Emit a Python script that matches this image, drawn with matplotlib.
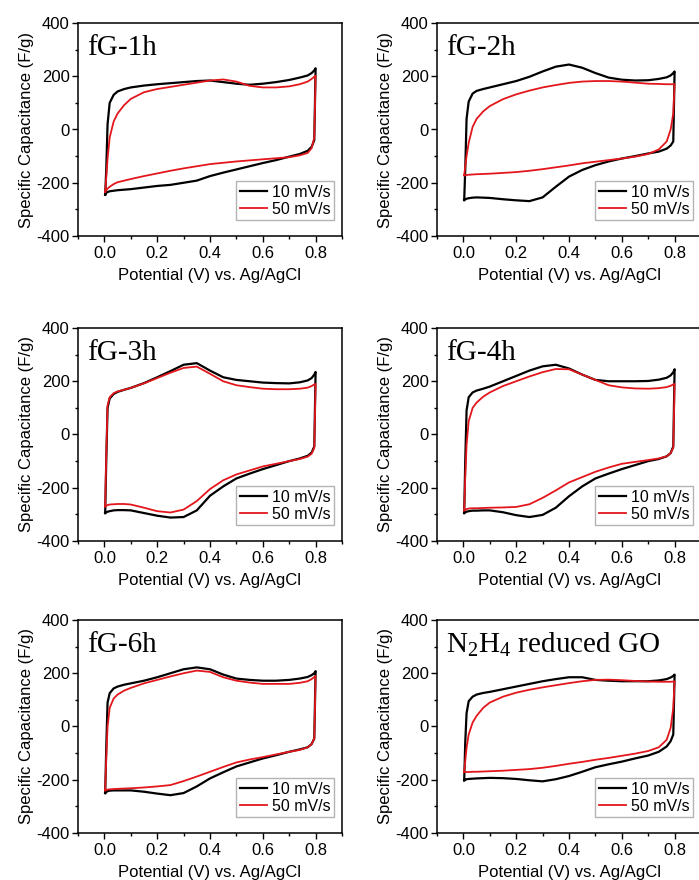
"""
cyclic voltammetry of functionalized graphene (fG) samples at two scan rates
"""

import numpy as np
import matplotlib
matplotlib.use("Agg")
import matplotlib.pyplot as plt
from matplotlib.ticker import MultipleLocator, FormatStrFormatter

# potential grid (V vs. Ag/AgCl) shared by all sweeps
E = [0.003, 0.007, 0.012, 0.02, 0.035, 0.05, 0.075, 0.1, 0.15, 0.2, 0.25,
     0.3, 0.35, 0.4, 0.45, 0.5, 0.55, 0.6, 0.65, 0.7, 0.74, 0.77, 0.785,
     0.795, 0.8]

# specific capacitance (F/g): anodic (forward) and cathodic (reverse) branches
fg1h_10_an = [-245, -150, 20, 100, 130, 143, 152, 158, 165, 170, 174, 178, 182,
              184, 178, 172, 168, 172, 178, 186, 195, 203, 212, 222, 230]
fg1h_10_ca = [-245, -238, -235, -232, -230, -228, -226, -224, -218, -212, -208,
              -200, -192, -175, -162, -150, -138, -126, -115, -102, -92, -80,
              -65, -40, 230]
fg1h_50_an = [-235, -180, -110, -30, 30, 60, 92, 115, 140, 152, 160, 168, 176,
              184, 188, 180, 164, 158, 158, 162, 170, 180, 190, 198, 202]
fg1h_50_ca = [-235, -228, -222, -215, -205, -198, -192, -186, -175, -165, -155,
              -146, -138, -130, -125, -120, -116, -112, -108, -104, -97, -88,
              -70, -30, 202]

fg2h_10_an = [-265, -150, 40, 105, 135, 145, 152, 158, 170, 182, 198, 218, 236,
              244, 232, 212, 195, 187, 184, 185, 190, 196, 203, 212, 218]
fg2h_10_ca = [-265, -262, -260, -258, -256, -255, -256, -257, -262, -266, -269,
              -255, -215, -177, -152, -134, -120, -109, -100, -90, -83, -72,
              -60, -45, 218]
fg2h_50_an = [-172, -140, -100, -50, 10, 40, 68, 88, 114, 132, 146, 158, 167,
              175, 180, 182, 182, 180, 176, 172, 171, 170, 170, 170, 170]
fg2h_50_ca = [-172, -172, -171, -170, -169, -168, -167, -166, -163, -160, -155,
              -149, -142, -135, -127, -121, -115, -109, -102, -92, -75, -45,
              0, 60, 170]

fg3h_10_an = [-295, -100, 100, 135, 152, 160, 168, 175, 193, 215, 238, 262, 268,
              240, 215, 205, 200, 195, 193, 192, 196, 203, 212, 225, 235]
fg3h_10_ca = [-295, -292, -290, -288, -285, -284, -284, -285, -295, -305, -312,
              -310, -285, -230, -195, -165, -147, -130, -115, -100, -90, -80,
              -68, -45, 235]
fg3h_50_an = [-270, -80, 110, 140, 155, 162, 168, 175, 192, 212, 232, 250, 255,
              228, 200, 185, 178, 172, 170, 170, 172, 176, 182, 188, 190]
fg3h_50_ca = [-270, -268, -265, -263, -262, -261, -261, -263, -275, -288, -293,
              -282, -250, -205, -172, -150, -135, -120, -110, -100, -92, -83,
              -72, -50, 190]

fg4h_10_an = [-295, -100, 90, 140, 158, 165, 172, 180, 200, 220, 240, 256, 262,
              248, 225, 205, 200, 200, 200, 201, 206, 213, 222, 234, 245]
fg4h_10_ca = [-295, -292, -290, -288, -286, -286, -285, -285, -292, -303, -310,
              -302, -275, -232, -195, -165, -147, -130, -115, -100, -92, -82,
              -70, -45, 245]
fg4h_50_an = [-285, -160, -40, 50, 100, 120, 142, 158, 182, 200, 218, 234, 246,
              245, 225, 205, 185, 177, 173, 172, 174, 178, 183, 188, 190]
fg4h_50_ca = [-285, -283, -280, -278, -277, -277, -276, -275, -274, -272, -262,
              -238, -210, -180, -160, -140, -124, -110, -103, -96, -90, -82,
              -70, -50, 190]

fg6h_10_an = [-250, -80, 90, 125, 143, 150, 157, 162, 172, 185, 200, 215, 222,
              215, 195, 180, 175, 172, 172, 175, 180, 186, 193, 200, 208]
fg6h_10_ca = [-250, -246, -243, -241, -240, -240, -240, -240, -245, -252, -258,
              -250, -225, -195, -172, -150, -135, -120, -108, -95, -86, -78,
              -66, -45, 208]
fg6h_50_an = [-240, -120, 0, 70, 105, 120, 135, 145, 162, 175, 188, 200, 210,
              205, 185, 172, 165, 160, 160, 160, 164, 170, 178, 186, 190]
fg6h_50_ca = [-240, -238, -237, -236, -235, -234, -233, -232, -229, -225, -220,
              -205, -188, -170, -152, -135, -124, -115, -105, -95, -88, -78,
              -66, -45, 190]

rgo_10_an = [-202, -60, 50, 95, 112, 120, 126, 130, 140, 150, 160, 170, 178,
             185, 185, 175, 172, 170, 170, 170, 173, 178, 184, 190, 195]
rgo_10_ca = [-202, -200, -198, -197, -196, -195, -194, -193, -194, -197, -202,
             -206, -198, -186, -170, -153, -142, -132, -120, -109, -95, -75,
             -55, -30, 195]
rgo_50_an = [-170, -130, -80, -30, 15, 40, 70, 90, 112, 127, 138, 147, 155,
             163, 170, 175, 176, 174, 171, 169, 168, 168, 168, 169, 170]
rgo_50_ca = [-170, -171, -171, -171, -170, -170, -169, -168, -166, -163, -160,
             -155, -148, -140, -133, -125, -118, -110, -102, -92, -78, -50,
             -5, 70, 170]

titles = ["fG-1h", "fG-2h", "fG-3h", "fG-4h", "fG-6h",
          r"N$_\mathregular{2}$H$_\mathregular{4}$ reduced GO"]
curves = [
    (fg1h_10_an, fg1h_10_ca, fg1h_50_an, fg1h_50_ca),
    (fg2h_10_an, fg2h_10_ca, fg2h_50_an, fg2h_50_ca),
    (fg3h_10_an, fg3h_10_ca, fg3h_50_an, fg3h_50_ca),
    (fg4h_10_an, fg4h_10_ca, fg4h_50_an, fg4h_50_ca),
    (fg6h_10_an, fg6h_10_ca, fg6h_50_an, fg6h_50_ca),
    (rgo_10_an, rgo_10_ca, rgo_50_an, rgo_50_ca),
]
rates = ["10 mV/s", "50 mV/s"]

plt.rcParams['font.family'] = ['Liberation Sans', 'DejaVu Sans']
plt.rcParams['mathtext.fontset'] = 'custom'
plt.rcParams['mathtext.rm'] = 'Liberation Serif'
plt.rcParams['axes.unicode_minus'] = False

W, H = 699, 880
fig = plt.figure(figsize=(W / 100, H / 100), dpi=100)

# axes boxes in pixels: (left, top) of each panel
lefts = [78, 437]
tops = [23, 328, 620]
aw, ah = 264, 213


def cv_loop(an, ca):
    x = np.concatenate([E, E[::-1]])
    y = np.concatenate([an, ca[::-1]])
    return x, y


for i, (title, c) in enumerate(zip(titles, curves)):
    r, col = divmod(i, 2)
    l, t = lefts[col], tops[r]
    ax = fig.add_axes([l / W, 1 - (t + ah) / H, aw / W, ah / H])

    x, y = cv_loop(c[0], c[1])
    ax.plot(x, y, color='black', lw=1.6, label=rates[0])
    x, y = cv_loop(c[2], c[3])
    ax.plot(x, y, color='#e3161b', lw=1.3, label=rates[1])

    ax.set_xlim(-0.1, 0.9)
    ax.set_ylim(-400, 400)
    ax.xaxis.set_major_locator(MultipleLocator(0.2))
    ax.xaxis.set_minor_locator(MultipleLocator(0.1))
    ax.xaxis.set_major_formatter(FormatStrFormatter('%.1f'))
    ax.yaxis.set_major_locator(MultipleLocator(200))
    ax.yaxis.set_minor_locator(MultipleLocator(100))
    ax.tick_params(which='both', direction='out', top=False, right=False,
                   labelsize=12, width=1.0, pad=2)
    ax.tick_params(axis='x', which='major', pad=3.5)
    ax.tick_params(which='major', length=4)
    ax.tick_params(which='minor', length=2.5)
    for s in ax.spines.values():
        s.set_linewidth(1.1)

    ax.set_xlabel('Potential (V) vs. Ag/AgCl', fontsize=12, labelpad=5)
    ax.set_ylabel('Specific Capacitance (F/g)', fontsize=12, labelpad=2)

    ax.text(0.035, 0.85, title, transform=ax.transAxes, fontsize=21,
            family='Liberation Serif', va='baseline', ha='left')

    leg = ax.legend(loc='lower right', bbox_to_anchor=(0.97, 0.075),
                    borderaxespad=0, fontsize=11.5, frameon=True,
                    fancybox=False, handlelength=1.7, handletextpad=0.3,
                    labelspacing=0.12, borderpad=0.22)
    leg.get_frame().set_edgecolor('#a0a0a0')
    leg.get_frame().set_linewidth(1.0)

fig.savefig('out.png', dpi=100)
